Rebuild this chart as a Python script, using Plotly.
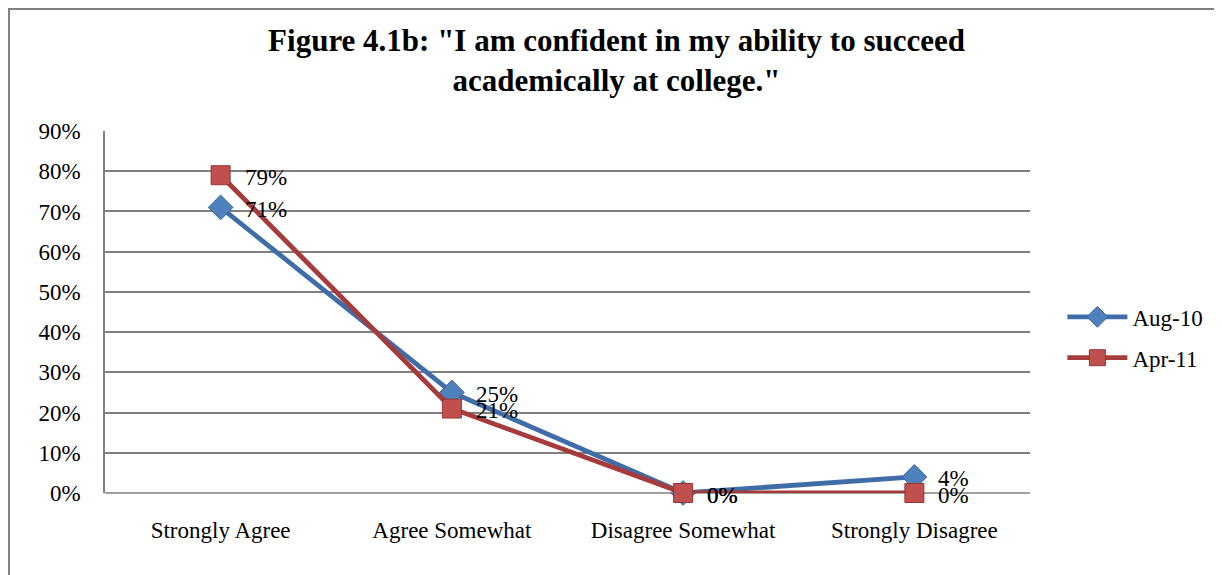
import plotly.graph_objects as go

categories = ["Strongly Agree", "Agree Somewhat", "Disagree Somewhat", "Strongly Disagree"]
aug10 = [0.71, 0.25, 0.00, 0.04]
apr11 = [0.79, 0.21, 0.00, 0.00]
aug10_labels = ["71%", "25%", "0%", "4%"]
apr11_labels = ["79%", "21%", "0%", "0%"]
y_ticks = [0, 0.1, 0.2, 0.3, 0.4, 0.5, 0.6, 0.7, 0.8, 0.9]
y_tick_labels = ["0%", "10%", "20%", "30%", "40%", "50%", "60%", "70%", "80%", "90%"]

FONT = "Liberation Serif"

fig = go.Figure()
fig.add_trace(go.Scatter(
    x=categories, y=aug10, name="Aug-10", mode="lines+markers", legendgroup="a",
    line=dict(color="#3F6DA8", width=4.8), cliponaxis=False,
    marker=dict(symbol="diamond", size=19, color="#4F81BD", line=dict(color="#3A64A0", width=1)),
))
fig.add_trace(go.Scatter(
    x=categories, y=apr11, name="Apr-11", mode="lines+markers", legendgroup="b",
    line=dict(color="#A53B3A", width=4.8), cliponaxis=False,
    marker=dict(symbol="square", size=19, color="#C0504D", line=dict(color="#943634", width=1)),
))

annotations = []
for vals, labs in ((aug10, aug10_labels), (apr11, apr11_labels)):
    for c, v, t in zip(categories, vals, labs):
        annotations.append(dict(
            x=c, y=v, xref="x", yref="y", text=t, showarrow=False,
            xanchor="left", yanchor="middle", xshift=22, yshift=-2,
            font=dict(family=FONT, size=23, color="#000000"),
        ))

fig.update_layout(
    width=1222, height=575,
    paper_bgcolor="white", plot_bgcolor="white",
    margin=dict(l=97, r=200, t=123, b=90),
    title=dict(
        text='<b>Figure 4.1b: "I am confident in my ability to succeed<br>academically at college."</b>',
        x=0.498, xanchor="center", y=0.925, yanchor="top",
        font=dict(family=FONT, size=31, color="#000000"),
    ),
    font=dict(family=FONT, size=23, color="#000000"),
    showlegend=True,
    legend=dict(
        x=1.035, xanchor="left", y=0.43, yanchor="middle",
        font=dict(family=FONT, size=23, color="#000000"),
        bgcolor="rgba(0,0,0,0)", tracegroupgap=8, itemwidth=60,
    ),
    xaxis=dict(
        type="category", categoryorder="array", categoryarray=categories,
        showgrid=False, showline=False, zeroline=False, ticks="",
        tickfont=dict(family=FONT, size=23, color="#000000"),
        ticklabelstandoff=21,
        range=[-0.5, 3.5],
    ),
    yaxis=dict(
        range=[0, 0.9], tickvals=y_ticks, ticktext=y_tick_labels,
        showgrid=True, gridcolor="#808080", gridwidth=1.5,
        showline=True, linecolor="#808080", linewidth=1.5,
        zeroline=False, ticks="", ticklen=0,
        tickfont=dict(family=FONT, size=23, color="#000000"),
        ticklabelstandoff=18,
    ),
    annotations=annotations,
    shapes=[
        dict(type="line", xref="paper", yref="paper", x0=0, x1=1, y0=0, y1=0,
             line=dict(color="#808080", width=1.5), layer="below"),
        dict(type="line", xref="paper", yref="paper", x0=-0.1049, x1=1.3, y0=1.337, y1=1.337,
             line=dict(color="#808080", width=2)),
        dict(type="line", xref="paper", yref="paper", x0=-0.1038, x1=-0.1038, y0=1.34, y1=-0.5,
             line=dict(color="#808080", width=2)),
    ],
)

fig.write_html("out.html")
